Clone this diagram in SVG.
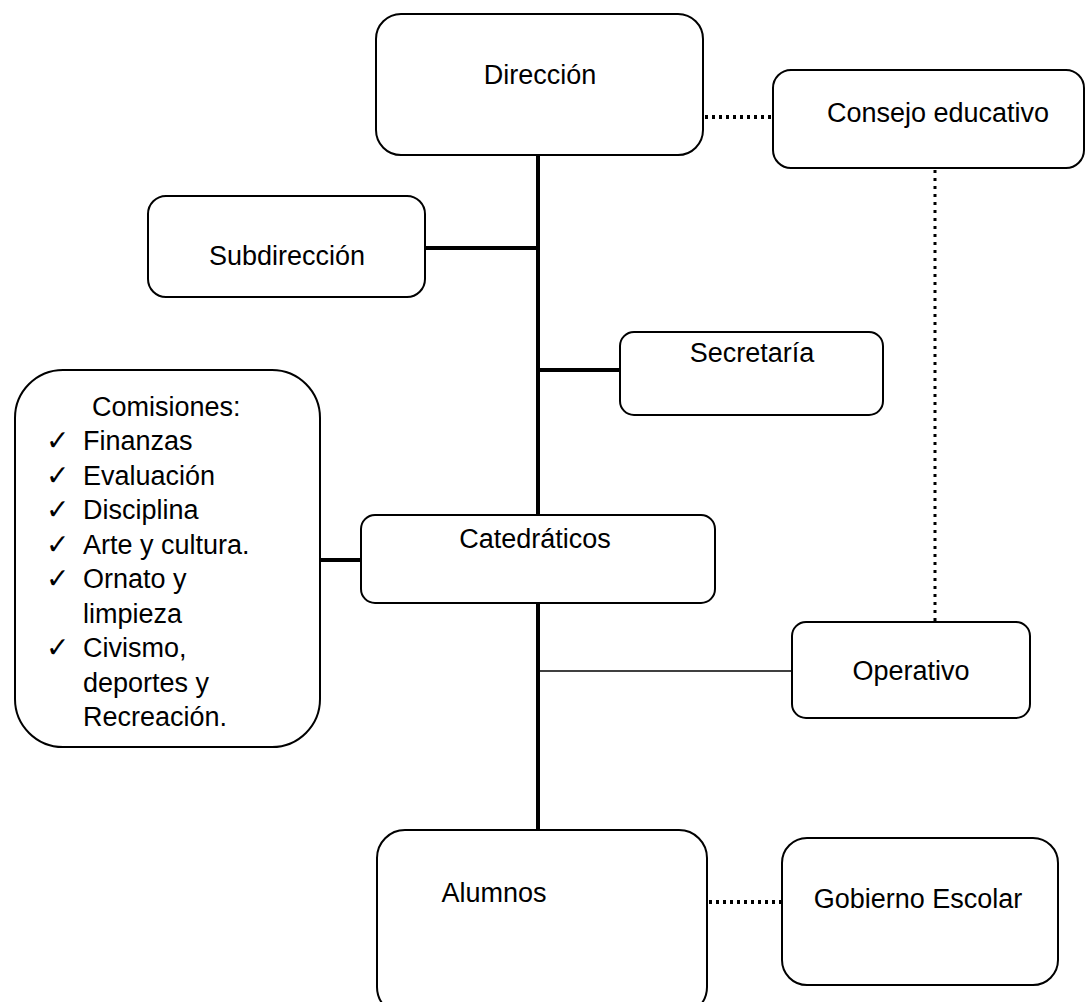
<svg xmlns="http://www.w3.org/2000/svg" width="1086" height="1002" viewBox="0 0 1086 1002">
<style>
.box{fill:#fff;stroke:#000;stroke-width:2}
.t{font-family:"Liberation Sans",Arial,sans-serif;font-size:27px;fill:#000}
.c{text-anchor:middle}
.ck{font-family:"DejaVu Sans",sans-serif;font-size:28px;fill:#000}
.solid{stroke:#000;stroke-width:4;fill:none}
.thin{stroke:#000;stroke-width:1.5;fill:none}
.dot{stroke:#000;stroke-width:4;fill:none;stroke-dasharray:3 4}
</style>
<rect width="1086" height="1002" fill="#fff"/>
<g id="connectors">
<line class="solid" x1="538" y1="155" x2="538" y2="515"/>
<line class="solid" x1="538" y1="603" x2="538" y2="830"/>
<line class="solid" x1="425" y1="248" x2="538" y2="248"/>
<line class="solid" x1="538" y1="370" x2="620" y2="370"/>
<line class="solid" x1="320" y1="560" x2="361" y2="560"/>
<line class="thin" x1="538" y1="671" x2="792" y2="671"/>
<line class="dot" x1="705" y1="117" x2="773" y2="117"/>
<line class="dot" x1="935" y1="170" x2="935" y2="622" style="stroke-width:3;stroke-dasharray:3 5"/>
<line class="dot" x1="709" y1="902" x2="782" y2="902"/>
</g>
<g id="direccion"><rect class="box" x="376" y="14" width="327" height="141" rx="25"/><text class="t c" x="540" y="84">Dirección</text></g>
<g id="consejo"><rect class="box" x="773" y="70" width="311" height="98" rx="18"/><text class="t c" x="938" y="122">Consejo educativo</text></g>
<g id="subdireccion"><rect class="box" x="148" y="196" width="277" height="101" rx="18"/><text class="t c" x="287" y="265">Subdirección</text></g>
<g id="secretaria"><rect class="box" x="620" y="332" width="263" height="83" rx="14"/><text class="t c" x="752" y="362">Secretaría</text></g>
<g id="comisiones"><rect class="box" x="15" y="370" width="305" height="377" rx="48"/>
<text class="t" x="92" y="416">Comisiones:</text>
<text class="ck" x="46" y="450">✓</text><text class="t" x="83" y="450">Finanzas</text>
<text class="ck" x="46" y="485">✓</text><text class="t" x="83" y="485">Evaluación</text>
<text class="ck" x="46" y="519">✓</text><text class="t" x="83" y="519">Disciplina</text>
<text class="ck" x="46" y="554">✓</text><text class="t" x="83" y="554">Arte y cultura.</text>
<text class="ck" x="46" y="588">✓</text><text class="t" x="83" y="588">Ornato y</text>
<text class="t" x="83" y="623">limpieza</text>
<text class="ck" x="46" y="657">✓</text><text class="t" x="83" y="657">Civismo,</text>
<text class="t" x="83" y="692">deportes y</text>
<text class="t" x="83" y="726">Recreación.</text>
</g>
<g id="catedraticos"><rect class="box" x="361" y="515" width="354" height="88" rx="14"/><text class="t c" x="535" y="548">Catedráticos</text></g>
<g id="operativo"><rect class="box" x="792" y="622" width="238" height="96" rx="14"/><text class="t c" x="911" y="680">Operativo</text></g>
<g id="alumnos"><rect class="box" x="377" y="830" width="330" height="185" rx="28"/><text class="t c" x="494" y="902">Alumnos</text></g>
<g id="gobierno"><rect class="box" x="782" y="838" width="276" height="147" rx="25"/><text class="t c" x="918" y="908">Gobierno Escolar</text></g>
</svg>
